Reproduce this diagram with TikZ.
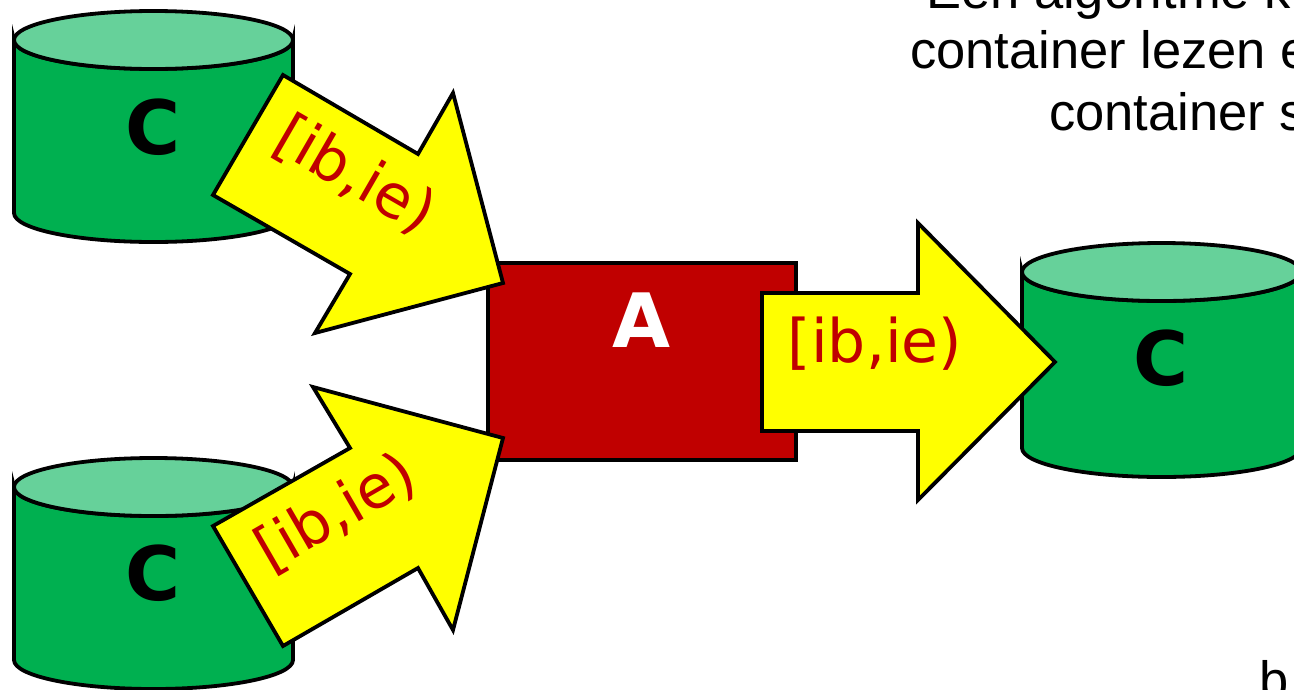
\documentclass[tikz,border=0pt]{standalone}
\usepackage{fontspec}
\newfontfamily\dvfont{DejaVu Sans}
\newfontfamily\libfont{Liberation Sans}
\definecolor{cylbody}{HTML}{00B050}
\definecolor{cyltop}{HTML}{66D19A}
\definecolor{boxred}{HTML}{C00000}
\definecolor{arrowyellow}{HTML}{FFFF00}
\definecolor{labelred}{HTML}{C00000}
\tikzset{
  outline/.style={draw=black, line width=3.8pt, line join=miter},
  cylbodystyle/.style={outline, fill=cylbody},
  cyltopstyle/.style={outline, fill=cyltop},
  blockarrow/.style={outline, fill=arrowyellow},
  algobox/.style={outline, fill=boxred},
  ctext/.style={inner sep=0pt, anchor=base, font=\dvfont\bfseries\fontsize{75pt}{80pt}\selectfont},
  atext/.style={inner sep=0pt, anchor=base, text=white, font=\dvfont\bfseries\fontsize{75pt}{80pt}\selectfont},
  rangetext/.style={inner sep=0pt, anchor=base, text=labelred, font=\dvfont\fontsize{60pt}{70pt}\selectfont},
  bodytext/.style={inner sep=0pt, anchor=base west, font=\libfont\fontsize{52.5pt}{60pt}\selectfont}
}
% cylinder: #1 = left x, #2 = top centre y, #3 = bottom centre y (image coords, y down)
\newcommand{\mycyl}[3]{%
  \path[cylbodystyle] (#1,#2) -- (#1,#3)
     arc[start angle=180, end angle=0, x radius=139.5pt, y radius=29pt]
     -- (#1+279,#2)
     arc[start angle=0, end angle=180, x radius=139.5pt, y radius=29pt] -- cycle;
  \path[cyltopstyle] (#1+139.5,#2) ellipse[x radius=139.5pt, y radius=29pt];
}
\begin{document}
\begin{tikzpicture}[x=1pt,y=1pt,yscale=-1]
\useasboundingbox (0,0) rectangle (1294,689);
\clip (0,0) rectangle (1294,689);

% cylinders
\mycyl{14}{40}{213}
\mycyl{14}{487}{660}
\mycyl{1022}{272}{448}
\node[ctext] (c1) at (153.5,154) {C};
\node[ctext] (c2) at (153.5,600) {C};
\node[ctext] (c3) at (1161,385) {C};

% algorithm box
\path[algobox] (488,263) rectangle (796,460);
\node[atext] (a) at (642,347) {A};

% block arrows
\path[blockarrow] (283,75) -- (418,154) -- (453,93) -- (503,283) -- (315,333) -- (350,274) -- (213,195) -- cycle;
\path[blockarrow] (213,526) -- (350,448) -- (313,387) -- (503,438) -- (453,630) -- (418,568) -- (283,646) -- cycle;
\path[blockarrow] (762,293) -- (918,293) -- (918,223) -- (1055,362) -- (918,500) -- (918,431) -- (762,431) -- cycle;

\node[rangetext, rotate=-30] (r1) at (345.7,191.7) {[ib,ie)};
\node[rangetext, rotate=30] (r2) at (345.7,529.3) {[ib,ie)};
\node[rangetext] (r3) at (875,362) {[ib,ie)};

% cropped explanatory text
\node[bodytext] (t1) at (926,8) {Een algoritme k};
\node[bodytext] (t2) at (910,68) {container lezen e};
\node[bodytext] (t3) at (1049,130) {container s};
\node[bodytext] (t4) at (1259,698) {b};
\end{tikzpicture}
\end{document}
